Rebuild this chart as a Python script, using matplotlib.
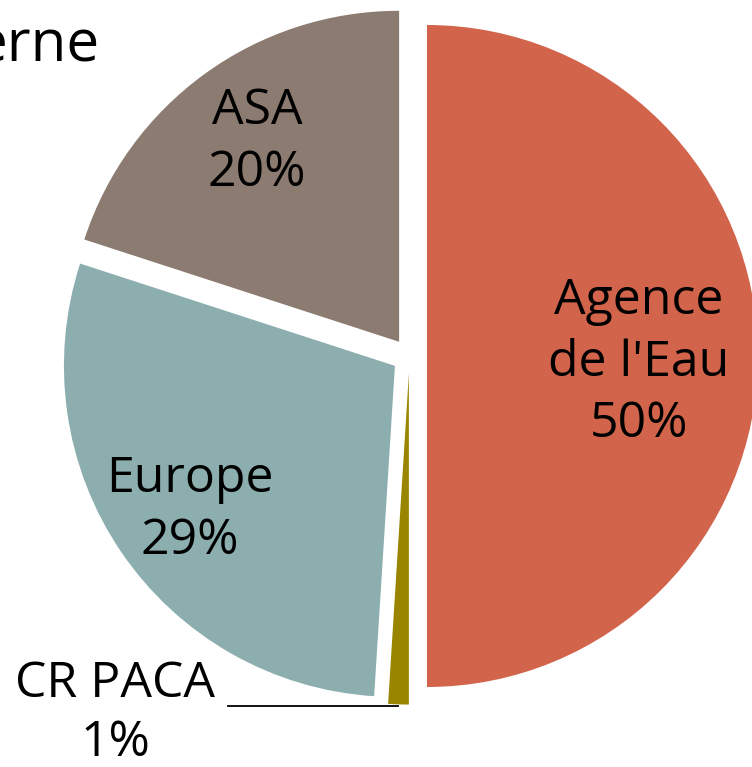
import numpy as np
import matplotlib
matplotlib.use("Agg")
import matplotlib.pyplot as plt

# data
labels = ["Agence\nde l'Eau", "CR PACA", "Europe", "ASA"]
values = [50, 1, 29, 20]
colors = ["#D1644A", "#998500", "#8CAEAF", "#8C7B70"]
title_part = "erne"

plt.rcParams['font.family'] = ['Open Sans', 'DejaVu Sans']

fig = plt.figure(figsize=(7.52, 7.67), dpi=100)
ax = fig.add_axes([0, 0, 1, 1])

wedges, _ = ax.pie(values, colors=colors, startangle=90, counterclock=False,
                   explode=[0.053] * 4, radius=1.0,
                   wedgeprops=dict(linewidth=0))

# pixel scale: radius 1 == 331 px, pie centre at (409, 356) px
px = 1 / 331
ax.set_xlim(-1.237, 1.035)
ax.set_ylim(-1.2417, 1.0755)
ax.set_aspect('auto')
ax.axis('off')

fs = 36
label_dist = [0.64, None, 0.75, 0.73]
label_dy = [-7, 0, -5, 4]
for w, lab, v, d, dy in zip(wedges, labels, values, label_dist, label_dy):
    mid = np.deg2rad((w.theta1 + w.theta2) / 2)
    cx, cy = w.center
    if d is None:
        continue
    ax.text(cx + d * np.cos(mid), cy + d * np.sin(mid) + dy * px, f"{lab}\n{v}%",
            ha='center', va='center', fontsize=fs, color='black',
            linespacing=1.32)

# small slice: label outside with a leader line
w = wedges[1]
mid = np.deg2rad((w.theta1 + w.theta2) / 2)
cx, cy = w.center
ex, ey = cx + np.cos(mid), cy + np.sin(mid)
ax.plot([-0.548, ex], [ey - 0.004, ey - 0.004], color='black', lw=1.3)
ax.text(-0.889, -1.080, f"{labels[1]}\n{values[1]}%", ha='center', va='center',
        fontsize=fs, color='black', linespacing=1.25)

# cropped title
fig.text(100 / 752, 1 - 62 / 767, title_part, ha='right', va='baseline',
         fontsize=42, color='black')

fig.savefig("out.png", dpi=100)
